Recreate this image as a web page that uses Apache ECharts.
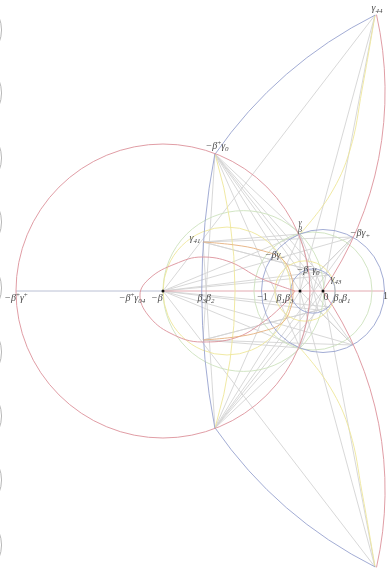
<!DOCTYPE html>
<html>
<head>
<meta charset="utf-8">
<script src="https://cdn.jsdelivr.net/npm/echarts@6/dist/echarts.min.js"></script>
<style>
  html, body { margin: 0; padding: 0; background: #fff; }
  #chart { width: 389px; height: 568px; }
</style>
</head>
<body>
<div id="chart"></div>
<script>
// named points of the figure, unit circle has radius 1
const pointNames = ['G44', 'G44m', 'A', 'Am', 'G41', 'G41m', 'F', 'Fm', 'Bp', 'Bpm', 'Bm', 'Bmm', 'C', 'Cm', 'G43', 'G43m', 'O', 'B13', 'mB', 'L', 'B32', 'M1', 'P1']
const pointX = [0.846, 0.846, -1.756, -1.756, -1.951, -1.951, -0.374, -0.374, 0.488, 0.488, -0.667, -0.667, -0.081, -0.081, 0.114, 0.114, 0, -0.374, -2.602, -4.992, -1.967, -1, 1]
const pointY = [4.488, -4.488, 2.228, -2.228, 0.797, -0.797, 0.927, -0.927, 0.878, -0.878, 0.537, -0.537, 0.309, -0.309, 0.26, -0.26, 0, 0, 0, 0, 0, 0, 0]
const dotPoints = ['mB', 'B13', 'O']

// circles: [cx, cy, r]
const redCircles = [[-2.602, 0, 2.39]]
const blueCircles = [[0, 0, 1], [-0.163, 0, 0.36]]
const greenCircles = [[-1.294, 0, 1.307], [-0.163, 0, 0.96]]
const yellowCircles = [[-1.561, 0, 1.04], [-0.293, 0, 0.49]]
const marginCircleY = [4.244, 3.22, 2.163, 1.122, 0.049, -0.992, -2.033, -3.073, -4.13]

// arcs: [cx, cy, r, fromDeg, toDeg]
const redArcs = [[-4.691, 3.241, 5.70, -34.6, 12.7], [-4.691, -3.241, 5.70, -12.7, 34.6]]
const blueArcs = [[3.989, -1.758, 6.99, 116.7, 145.25], [3.989, 1.758, 6.99, -145.25, -116.7], [9.87, 0, 11.84, 169.15, 190.85]]
const yellowArcs = [[-9.22, 0, 7.79, -16.6, 16.6]]

// curves
const redOval = [[-0.455, 0], [-1.024, 0.211], [-1.512, 0.472], [-1.967, 0.553], [-2.407, 0.439], [-2.813, 0.211], [-2.976, -0.065], [-2.846, -0.39], [-2.488, -0.683], [-1.967, -0.829], [-1.431, -0.764], [-0.992, -0.52], [-0.618, -0.195], [-0.455, 0]]
const orangeCurve = [[-1.951, 0.797], [-1.431, 0.748], [-1.024, 0.667], [-0.667, 0.52], [-0.52, 0.26], [-0.488, 0], [-0.52, -0.26], [-0.667, -0.52], [-1.024, -0.667], [-1.431, -0.748], [-1.951, -0.797]]
const yellowUpper = [[0.846, 4.488], [0.634, 3.268], [0.439, 2.293], [0.114, 1.561], [-0.374, 0.927]]
const yellowLower = [[0.846, -4.488], [0.634, -3.268], [0.439, -2.293], [0.114, -1.561], [-0.374, -0.927]]

// straight gray segments between named points
const graySegments = [
  ['mB', 'G44'], ['mB', 'G44m'], ['mB', 'F'], ['mB', 'Fm'], ['mB', 'Bp'], ['mB', 'Bpm'],
  ['mB', 'C'], ['mB', 'Cm'], ['mB', 'G43'], ['mB', 'G43m'],
  ['G44', 'B13'], ['G44m', 'B13'], ['G44', 'O'], ['G44m', 'O'],
  ['A', 'F'], ['Am', 'Fm'], ['A', 'Fm'], ['Am', 'F'], ['A', 'O'], ['Am', 'O'],
  ['A', 'B13'], ['Am', 'B13'], ['A', 'Bpm'], ['Am', 'Bp'], ['A', 'G41m'], ['Am', 'G41'],
  ['A', 'C'], ['Am', 'Cm'],
  ['G41', 'F'], ['G41m', 'Fm'], ['G41', 'C'], ['G41m', 'Cm'], ['G41', 'G43'], ['G41m', 'G43m'],
  ['G41', 'Bp'], ['G41m', 'Bpm'],
  ['F', 'Fm'], ['F', 'O'], ['Fm', 'O'], ['Bp', 'C'], ['Bpm', 'Cm'], ['F', 'Cm'], ['Fm', 'C'],
  ['Bp', 'B13'], ['Bpm', 'B13']
]
const axisSegments = [['L', 'mB', '#b2b9cf'], ['mB', 'P1', '#e0a0a8']]

// labels: anchor point and text
const labelPoints = ['G44', 'A', 'G41', 'F', 'Bp', 'Bm', 'C', 'G43', 'M1', 'B13', 'O', 'O', 'P1', 'B32', 'mB', 'mB', 'L']
const labelTexts = [
  '{i|γ}{s|44}', '{i|−β}{p|+}{i|γ}{s|0}', '{i|γ}{s|41}', '{f|γ}\n{f|β}', '{i|−βγ}{s|+}', '{i|−βγ}{s|−}',
  '{i|−β}{p|−}{i|γ}{s|0}', '{i|γ}{s|43}', '{r|−1}', '{i|β}{s|1}{i|β}{s|3}', '{r|0}', '{i|β}{s|0}{i|β}{s|1}',
  '{r|1}', '{i|β}{s|3}{i|β}{s|2}', '{i|−β}', '{i|−β}{p|+}{i|γ}{s|04}', '{i|−β}{p|+}{i|γ}{p|+}'
]
const labelOffsets = [[2, -7], [2, -8], [-8, -4], [0, -8], [7, -4], [-7, -3], [-10, -2], [6, 4], [1, 6], [-15, 7], [3, 6], [19, 7], [1, 5], [4, 7], [-6, 7], [-31, 7], [0, 7]]

const pt = name => {
  const i = pointNames.indexOf(name)
  return [pointX[i], pointY[i]]
}

const serif = 'Liberation Serif'
const ink = '#4a4a4a'
const rich = {
  i: { fontFamily: serif, fontStyle: 'italic', fontSize: 10, lineHeight: 13, fill: ink },
  r: { fontFamily: serif, fontSize: 10, lineHeight: 13, fill: ink },
  s: { fontFamily: serif, fontStyle: 'italic', fontSize: 7, lineHeight: 7, verticalAlign: 'bottom', fill: ink },
  p: { fontFamily: serif, fontSize: 7, lineHeight: 7, verticalAlign: 'top', fill: ink },
  f: { fontFamily: serif, fontStyle: 'italic', fontSize: 8, lineHeight: 7, fill: ink }
}

function circleSeries (data, color, z, width) {
  return {
    type: 'custom',
    z: z,
    data: data,
    renderItem (params, api) {
      const c = api.coord([api.value(0), api.value(1)])
      const r = api.size([api.value(2), 0])[0]
      return { type: 'circle', silent: true, shape: { cx: c[0], cy: c[1], r: r }, style: { fill: 'none', stroke: color, lineWidth: width || 0.9 } }
    }
  }
}

function arcSeries (data, color, z) {
  return {
    type: 'custom',
    z: z,
    data: data,
    renderItem (params, api) {
      const c = api.coord([api.value(0), api.value(1)])
      const r = api.size([api.value(2), 0])[0]
      return {
        type: 'arc',
        silent: true,
        shape: { cx: c[0], cy: c[1], r: r, startAngle: -api.value(4) * Math.PI / 180, endAngle: -api.value(3) * Math.PI / 180, clockwise: true },
        style: { fill: 'none', stroke: color, lineWidth: 0.9 }
      }
    }
  }
}

function curveSeries (data, color, z) {
  return {
    type: 'line',
    z: z,
    data: data,
    smooth: 0.4,
    showSymbol: false,
    silent: true,
    lineStyle: { color: color, width: 0.9 }
  }
}

const segData = graySegments.map(s => pt(s[0]).concat(pt(s[1])))
const axisData = axisSegments.map(s => pt(s[0]).concat(pt(s[1])))

const red = '#dc929b'
const blue = '#97a3cf'
const yellow = '#eee79a'
const green = '#cde2bd'

const option = {
  animation: false,
  backgroundColor: '#fff',
  grid: { left: 0, right: 0, top: 0, bottom: 0 },
  xAxis: { type: 'value', min: -5.252, max: 1.073, show: false },
  yAxis: { type: 'value', min: -4.504, max: 4.732, show: false },
  series: [
    {
      type: 'custom',
      z: 1,
      data: segData,
      renderItem (params, api) {
        const a = api.coord([api.value(0), api.value(1)])
        const b = api.coord([api.value(2), api.value(3)])
        return { type: 'line', silent: true, shape: { x1: a[0], y1: a[1], x2: b[0], y2: b[1] }, style: { stroke: '#d4d4d4', lineWidth: 0.9 } }
      }
    },
    {
      type: 'custom',
      z: 2,
      data: axisData,
      renderItem (params, api) {
        const a = api.coord([api.value(0), api.value(1)])
        const b = api.coord([api.value(2), api.value(3)])
        return { type: 'line', silent: true, shape: { x1: a[0], y1: a[1], x2: b[0], y2: b[1] }, style: { stroke: axisSegments[params.dataIndex][2], lineWidth: 0.9 } }
      }
    },
    circleSeries(marginCircleY.map(y => [-5.78, y, 0.553]), '#b0b0b0', 2),
    circleSeries(greenCircles, green, 3),
    circleSeries(yellowCircles, yellow, 4),
    arcSeries(yellowArcs, yellow, 4),
    curveSeries(yellowUpper, yellow, 4),
    curveSeries(yellowLower, yellow, 4),
    circleSeries(blueCircles, blue, 5),
    arcSeries(blueArcs, blue, 5),
    circleSeries(redCircles, red, 6),
    arcSeries(redArcs, red, 6),
    curveSeries(redOval, red, 6),
    curveSeries(orangeCurve, '#e5b07e', 7),
    {
      type: 'custom',
      z: 8,
      data: dotPoints.map(pt),
      renderItem (params, api) {
        const c = api.coord([api.value(0), api.value(1)])
        return { type: 'circle', silent: true, shape: { cx: c[0], cy: c[1], r: 1.5 }, style: { fill: '#111' } }
      }
    },
    {
      type: 'custom',
      z: 9,
      data: labelPoints.map(pt),
      renderItem (params, api) {
        const c = api.coord([api.value(0), api.value(1)])
        const off = labelOffsets[params.dataIndex]
        return {
          type: 'text',
          silent: true,
          x: c[0] + off[0],
          y: c[1] + off[1],
          style: { text: labelTexts[params.dataIndex], rich: rich, align: 'center', verticalAlign: 'middle', fill: ink }
        }
      }
    }
  ]
}

const chart = echarts.init(document.getElementById('chart'))
chart.setOption(option)
</script>
</body>
</html>
